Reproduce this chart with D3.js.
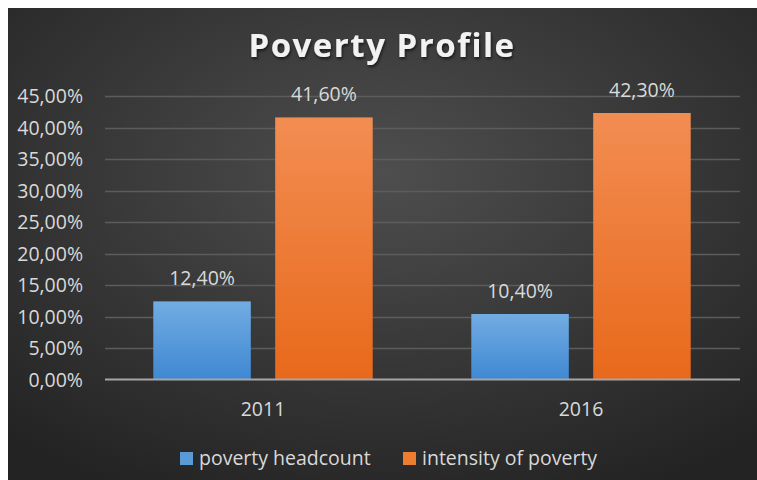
<!DOCTYPE html>
<html>
<head>
<meta charset="utf-8">
<script src="https://cdn.jsdelivr.net/npm/d3@7"></script>
<style>
  html, body { margin: 0; padding: 0; background: #ffffff; }
  svg { display: block; }
</style>
</head>
<body>
<svg id="chart" width="757" height="480"></svg>
<script>
// Poverty profile: headcount vs intensity, 2011 and 2016
const categories = ["2011", "2016"];
const seriesNames = ["poverty headcount", "intensity of poverty"];
const headcount = [12.4, 10.4];
const intensity = [41.6, 42.3];
const yTicks = [0, 5, 10, 15, 20, 25, 30, 35, 40, 45];

const seriesValues = [headcount, intensity];
const colorsTop = ["#72ace3", "#f28d52"];
const colorsBottom = ["#3f88d2", "#e8691b"];
const legendColors = ["#5b9bd5", "#ed7d31"];
const textColor = "#d9d9d9";
const font = "'Open Sans', 'DejaVu Sans', sans-serif";
const fontSize = "19.5px";

const locale = d3.formatLocale({ decimal: ",", thousands: ".", grouping: [3], currency: ["", ""] });
const fmt = v => locale.format(".2f")(v) + "%";

const svg = d3.select("#chart");
const defs = svg.append("defs");

// dark panel with soft radial lighting
const bg = defs.append("radialGradient").attr("id", "bg")
  .attr("cx", "50%").attr("cy", "35%").attr("r", "75%");
bg.append("stop").attr("offset", "0%").attr("stop-color", "#4e4e4e");
bg.append("stop").attr("offset", "100%").attr("stop-color", "#232323");

seriesNames.forEach((s, i) => {
  const g = defs.append("linearGradient").attr("id", "bar" + i)
    .attr("x1", 0).attr("y1", 0).attr("x2", 0).attr("y2", 1);
  g.append("stop").attr("offset", "0%").attr("stop-color", colorsTop[i]);
  g.append("stop").attr("offset", "100%").attr("stop-color", colorsBottom[i]);
});

const shadow = defs.append("filter").attr("id", "shadow")
  .attr("x", "-10%").attr("y", "-30%").attr("width", "120%").attr("height", "160%");
shadow.append("feDropShadow").attr("dx", 1).attr("dy", 2).attr("stdDeviation", 1.5)
  .attr("flood-color", "#000").attr("flood-opacity", 0.6);

svg.append("rect").attr("x", 8).attr("y", 8).attr("width", 749).attr("height", 472)
  .attr("fill", "url(#bg)");

const x0 = d3.scaleBand().domain(categories).range([104, 740])
  .paddingInner(0.31).paddingOuter(0.155);
const x1 = d3.scaleBand().domain(d3.range(seriesNames.length)).range([0, x0.bandwidth()])
  .paddingInner(0.2);
const y = d3.scaleLinear().domain([0, 45]).range([379.5, 96]);

// gridlines
svg.append("g").selectAll("line").data(yTicks.slice(1)).join("line")
  .attr("x1", 105).attr("x2", 740)
  .attr("y1", d => Math.round(y(d)) + 0.5).attr("y2", d => Math.round(y(d)) + 0.5)
  .attr("stroke", "#5c5c5c").attr("stroke-width", 1.5);

// y axis labels
const yAxis = svg.append("g").attr("transform", "translate(83,0)")
  .call(d3.axisLeft(y).tickValues(yTicks).tickFormat(fmt).tickSize(0).tickPadding(0));
yAxis.select(".domain").remove();
yAxis.selectAll("text").attr("fill", textColor).style("font-family", font)
  .style("font-size", fontSize).attr("dy", "0.35em");

// bars
const groups = svg.append("g").selectAll("g").data(categories).join("g")
  .attr("transform", c => `translate(${x0(c)},0)`);
groups.selectAll("rect").data((c, ci) => seriesValues.map((vals, si) => ({ si, v: vals[ci] })))
  .join("rect")
  .attr("x", d => x1(d.si)).attr("width", x1.bandwidth())
  .attr("y", d => y(d.v)).attr("height", d => y(0) - y(d.v))
  .attr("fill", d => `url(#bar${d.si})`);

// value labels
groups.selectAll("text").data((c, ci) => seriesValues.map((vals, si) => ({ si, v: vals[ci] })))
  .join("text")
  .attr("x", d => x1(d.si) + x1.bandwidth() / 2).attr("y", d => y(d.v) - 16)
  .attr("text-anchor", "middle").attr("fill", textColor)
  .style("font-family", font).style("font-size", fontSize)
  .text(d => fmt(d.v));

// baseline
svg.append("line").attr("x1", 105).attr("x2", 740).attr("y1", y(0)).attr("y2", y(0))
  .attr("stroke", "#a6a6a6").attr("stroke-width", 2);

// category axis
const xAxis = svg.append("g").attr("transform", "translate(0,416)")
  .call(d3.axisBottom(x0).tickSize(0).tickPadding(0));
xAxis.select(".domain").remove();
xAxis.selectAll("text").attr("fill", textColor).attr("dy", 0)
  .style("font-family", font).style("font-size", fontSize);

// title
svg.append("text").attr("x", 382).attr("y", 57).attr("text-anchor", "middle")
  .attr("fill", "#f2f2f2").attr("filter", "url(#shadow)")
  .style("font-family", font).style("font-weight", "bold").style("font-size", "33px")
  .style("letter-spacing", "1.5px")
  .text("Poverty Profile");

// legend
const legendX = [180, 403];
const legend = svg.append("g").selectAll("g").data(seriesNames).join("g")
  .attr("transform", (d, i) => `translate(${legendX[i]},452)`);
legend.append("rect").attr("width", 13).attr("height", 13)
  .attr("fill", (d, i) => legendColors[i]);
legend.append("text").attr("x", 19).attr("y", 13).attr("fill", textColor)
  .style("font-family", font).style("font-size", fontSize).text(d => d);
</script>
</body>
</html>
